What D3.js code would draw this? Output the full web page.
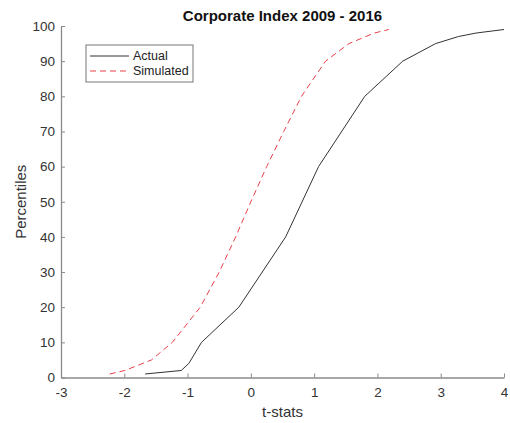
<!DOCTYPE html>
<html>
<head>
<meta charset="utf-8">
<script src="https://cdn.jsdelivr.net/npm/d3@7"></script>
<style>
  body { margin: 0; background: #fff; }
  svg { font-family: "Liberation Sans", Arial, sans-serif; }
</style>
</head>
<body>
<svg id="chart" width="510" height="423"></svg>
<script>
const width = 510;
const height = 423;

// values
const actualX = [-1.67, -1.1, -0.98, -0.78, -0.19, 0.55, 1.07, 1.8, 2.4, 2.92, 3.28, 3.56, 4.0];
const actualY = [1, 2, 4, 10, 20, 40, 60, 80, 90, 95, 97, 98, 99];
const simX = [-2.23, -1.99, -1.57, -1.24, -0.8, -0.5, -0.24, 0.0, 0.25, 0.52, 0.8, 1.18, 1.55, 1.95, 2.18];
const simY = [1, 2, 5, 10, 20, 30, 40, 50, 60, 70, 80, 90, 95, 98, 99];
const xTicks = [-3, -2, -1, 0, 1, 2, 3, 4];
const yTicks = [0, 10, 20, 30, 40, 50, 60, 70, 80, 90, 100];

const margin = { left: 61, right: 6, top: 26, bottom: 45.5 };

const svg = d3.select("#chart");

const x = d3.scaleLinear().domain([-3, 4]).range([margin.left, width - margin.right]);
const y = d3.scaleLinear().domain([0, 100]).range([height - margin.bottom, margin.top]);

// axes (box off, ticks pointing inward); plain hyphen for negatives like matlab
const xAxis = svg.append("g")
    .attr("transform", `translate(0,${y(0)})`)
    .call(d3.axisBottom(x).tickValues(xTicks).tickFormat(d => String(d))
        .tickSize(-4).tickPadding(10).tickSizeOuter(0));

const yAxis = svg.append("g")
    .attr("transform", `translate(${x(-3)},0)`)
    .call(d3.axisLeft(y).tickValues(yTicks).tickFormat(d => String(d))
        .tickSize(-4).tickPadding(6).tickSizeOuter(0));

[xAxis, yAxis].forEach(a => {
    a.select(".domain").attr("stroke", "#8a8a8a").attr("stroke-width", 1.3);
    a.selectAll(".tick line").attr("stroke", "#8a8a8a");
    a.selectAll(".tick text")
        .attr("fill", "#333")
        .attr("font-size", "13.5px")
        .attr("font-family", "Liberation Sans, Arial, sans-serif");
});

const line = d3.line().x(d => x(d[0])).y(d => y(d[1]));

svg.append("path")
    .datum(d3.zip(actualX, actualY))
    .attr("d", line)
    .attr("fill", "none")
    .attr("stroke", "#333")
    .attr("stroke-width", 1);

svg.append("path")
    .datum(d3.zip(simX, simY))
    .attr("d", line)
    .attr("fill", "none")
    .attr("stroke", "#e8404a")
    .attr("stroke-width", 1)
    .attr("stroke-dasharray", "6,4");

// title and axis labels
svg.append("text")
    .attr("x", (x(-3) + x(4)) / 2)
    .attr("y", 21)
    .attr("text-anchor", "middle")
    .attr("font-size", "15px")
    .attr("font-weight", "bold")
    .attr("fill", "#111")
    .text("Corporate Index 2009 - 2016");

svg.append("text")
    .attr("x", (x(-3) + x(4)) / 2)
    .attr("y", 417)
    .attr("text-anchor", "middle")
    .attr("font-size", "15px")
    .attr("fill", "#333")
    .text("t-stats");

svg.append("text")
    .attr("transform", `translate(26,${(y(0) + y(100)) / 2}) rotate(-90)`)
    .attr("text-anchor", "middle")
    .attr("font-size", "15px")
    .attr("fill", "#333")
    .text("Percentiles");

// legend
const legend = svg.append("g").attr("transform", "translate(86,45)");
legend.append("rect")
    .attr("width", 107)
    .attr("height", 37)
    .attr("fill", "#fff")
    .attr("stroke", "#777")
    .attr("stroke-width", 1);

const legendItems = [
    { label: "Actual", color: "#333", dash: null },
    { label: "Simulated", color: "#e8404a", dash: "6,4" }
];

legendItems.forEach((d, i) => {
    const yy = 11 + i * 15;
    legend.append("line")
        .attr("x1", 4).attr("x2", 43)
        .attr("y1", yy).attr("y2", yy)
        .attr("stroke", d.color)
        .attr("stroke-width", 1)
        .attr("stroke-dasharray", d.dash);
    legend.append("text")
        .attr("x", 47)
        .attr("y", yy + 4)
        .attr("font-size", "12.5px")
        .attr("fill", "#222")
        .text(d.label);
});
</script>
</body>
</html>
